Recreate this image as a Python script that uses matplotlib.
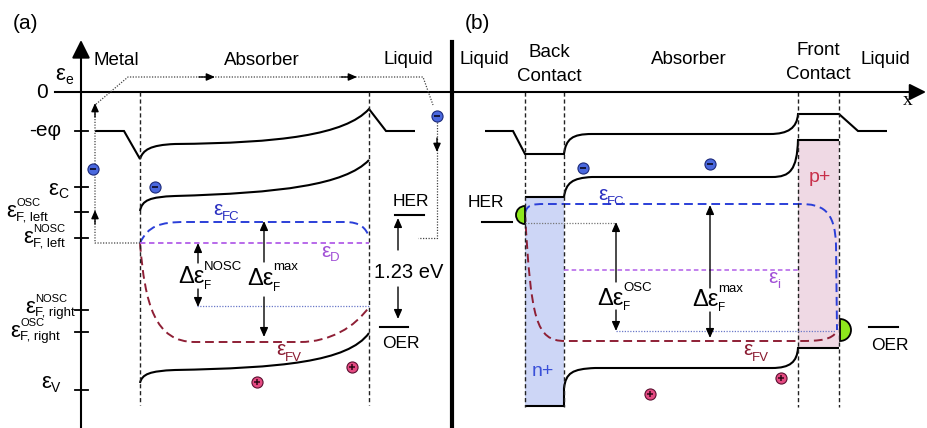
import numpy as np
import matplotlib.pyplot as plt
from matplotlib.path import Path
from matplotlib.patches import PathPatch, Rectangle, Wedge

plt.rcParams['font.family'] = ['Liberation Sans', 'DejaVu Sans']

# --- band levels, drawn in figure pixel units (y grows downward) ---
# panel (a): metal / absorber / liquid
a_vac = [('M', (95, 131)), ('L', (124, 131)), ('L', (140, 159)),
         ('C', (143, 150), (150, 145), (175, 144)),
         ('C', (280, 143), (345, 135), (369, 109)),
         ('L', (386, 131)), ('L', (415, 131))]
a_cb = [('M', (140, 211)), ('C', (142, 200), (150, 197), (175, 196)),
        ('C', (280, 193), (345, 185), (369, 160))]
a_vb = [('M', (140, 383)), ('C', (142, 374), (150, 371), (175, 370)),
        ('C', (280, 368), (348, 362), (369, 333))]
a_efc = [('M', (140, 243)), ('C', (148, 226), (160, 222), (185, 222)),
         ('L', (345, 222)), ('C', (360, 222), (366, 228), (369, 237))]
a_efv = [('M', (140, 243)), ('C', (145, 305), (155, 342), (195, 342)),
         ('L', (300, 342)), ('C', (330, 342), (355, 327), (369, 307))]
a_ed = 243
a_edges = [140, 369]
a_ticks = [131, 187, 212, 238, 310, 332, 390]

# panel (b): liquid / back contact / absorber / front contact / liquid
b_vac = [('M', (485, 131)), ('L', (513, 131)), ('L', (525, 154)), ('L', (564, 154)),
         ('C', (566, 139), (572, 134), (592, 134)), ('L', (770, 134)),
         ('C', (788, 134), (797, 128), (798, 114)), ('L', (839, 114)),
         ('L', (858, 131)), ('L', (887, 131))]
b_cb = [('M', (525, 197)), ('L', (564, 197)),
        ('C', (566, 183), (572, 178), (592, 177)), ('L', (772, 177)),
        ('C', (790, 177), (797, 170), (798, 140)), ('L', (839, 140))]
b_vb = [('M', (525, 406)), ('L', (564, 406)), ('L', (564, 388)),
        ('C', (566, 373), (572, 369), (595, 368)), ('L', (772, 368)),
        ('C', (790, 368), (797, 362), (798, 348)), ('L', (839, 348))]
b_efc = [('M', (525, 213)), ('C', (527, 205), (532, 204), (545, 204)),
         ('L', (800, 204)), ('C', (822, 204), (835, 210), (836, 245)),
         ('L', (837, 330))]
b_efv = [('M', (525, 213)), ('C', (531, 320), (536, 341), (565, 341)),
         ('L', (800, 341)), ('C', (820, 341), (832, 340), (837, 331))]
b_ei = 270
b_edges = [525, 564, 798, 839]
nplus = (525, 564, 197, 406)
pplus = (798, 839, 140, 348)

electrons = [(93, 169), (155, 187), (437, 116), (583, 168), (710, 164)]
holes = [(257, 382), (352, 367), (650, 394), (781, 378)]

C_FC = '#2b3fd8'
C_FV = '#8e1f35'
C_D = '#b25ee8'
C_FC_TXT = '#2a2fc0'
C_D_TXT = '#a14fd6'
C_FV_TXT = '#8a1a30'

fig = plt.figure(figsize=(9.27, 4.28), dpi=100)
ax = fig.add_axes([0, 0, 1, 1])
ax.set_xlim(0, 927)
ax.set_ylim(428, 0)
ax.axis('off')
renderer = fig.canvas.get_renderer()


def draw_path(segs, **kw):
    verts, codes = [], []
    for s in segs:
        if s[0] == 'M':
            verts.append(s[1]); codes.append(Path.MOVETO)
        elif s[0] == 'L':
            verts.append(s[1]); codes.append(Path.LINETO)
        else:
            verts += [s[1], s[2], s[3]]; codes += [Path.CURVE4] * 3
    ax.add_patch(PathPatch(Path(verts, codes), fill=False, capstyle='butt', **kw))


def arrow(tail, tip, lw=1.0, ms=11, color='k'):
    ax.annotate('', xy=tip, xytext=tail,
                arrowprops=dict(arrowstyle='-|>,head_length=0.5,head_width=0.22',
                                color=color, lw=lw, mutation_scale=ms,
                                shrinkA=0, shrinkB=0))


def symbol(x, y, main, sub='', sup='', size=16, sub_size=9.5, sup_size=8,
           sub_dy=3, sup_dy=-11, color='k', right=False):
    # main glyph with subscript/superscript stacked after it; y is the baseline
    ts = [ax.text(x, y, main, fontsize=size, color=color, va='baseline')]
    x1 = ts[0].get_window_extent(renderer).x1
    w = x1 - x
    if sub:
        t = ax.text(x1, y + sub_dy, sub, fontsize=sub_size, color=color, va='baseline')
        ts.append(t)
        w = max(w, t.get_window_extent(renderer).x1 - x)
    if sup:
        t = ax.text(x1, y + sup_dy, sup, fontsize=sup_size, color=color, va='baseline')
        ts.append(t)
        w = max(w, t.get_window_extent(renderer).x1 - x)
    if right:
        for t in ts:
            px, py = t.get_position()
            t.set_position((px - w, py))


solid = dict(color='k', lw=1.5)
vdash = dict(color='#222222', lw=1.0, ls=(0, (3, 2)))
dot = dict(color='#444444', lw=0.9, ls=(0, (1, 1.2)))

# axes and frame lines
ax.annotate('', xy=(81, 40), xytext=(81, 428),
            arrowprops=dict(arrowstyle='-|>,head_length=0.5,head_width=0.25',
                            color='k', lw=1.5, mutation_scale=22,
                            shrinkA=0, shrinkB=0))
ax.plot([55, 452], [92, 92], color='k', lw=1.5)
ax.annotate('', xy=(926, 92), xytext=(452, 92),
            arrowprops=dict(arrowstyle='-|>,head_length=0.5,head_width=0.25',
                            color='k', lw=1.5, mutation_scale=20,
                            shrinkA=0, shrinkB=0))
ax.plot([452, 452], [42, 428], color='k', lw=3)
for t in a_ticks:
    ax.plot([75, 88], [t, t], color='k', lw=1.3)

# region boundaries
for xe in a_edges:
    ax.plot([xe, xe], [92, 405], **vdash)
for xe in b_edges:
    ax.plot([xe, xe], [92, 407], **vdash)

# doped contact layers in (b)
ax.add_patch(Rectangle((nplus[0], nplus[2]), nplus[1] - nplus[0], nplus[3] - nplus[2],
                       facecolor='#cdd6f6', edgecolor='none', zorder=0))
ax.add_patch(Rectangle((pplus[0], pplus[2]), pplus[1] - pplus[0], pplus[3] - pplus[2],
                       facecolor='#efd9e4', edgecolor='none', zorder=0))

# bands
for segs in (a_vac, a_cb, a_vb, b_vac, b_cb, b_vb):
    draw_path(segs, **solid)
draw_path(a_efc, color=C_FC, lw=1.4, ls=(0, (4.5, 2.5)))
draw_path(a_efv, color=C_FV, lw=1.4, ls=(0, (4.5, 2.5)))
draw_path(b_efc, color=C_FC, lw=1.4, ls=(0, (4.5, 2.5)))
draw_path(b_efv, color=C_FV, lw=1.4, ls=(0, (4.5, 2.5)))
ax.plot(a_edges, [a_ed, a_ed], color=C_D, lw=1.3, ls=(0, (3, 2)))
ax.plot([564, 798], [b_ei, b_ei], color=C_D, lw=1.1, ls=(0, (3, 2)))

# quasi-Fermi reference levels
ax.plot([197, 369], [306, 306], color='#6a78c8', lw=0.9, ls=(0, (1, 1.2)))
ax.plot([525, 616], [223, 223], color='#777777', lw=0.9, ls=(0, (1, 1.2)))
ax.plot([616, 836], [331, 331], color='#6a78c8', lw=0.9, ls=(0, (1, 1.2)))

# electron path in (a)
ax.plot([140, 95, 95, 128, 423, 433], [243, 243, 105, 77, 77, 105], **dot)
ax.plot([437, 437, 418], [122, 238, 238], **dot)
arrow((95, 224), (95, 210), ms=10)
arrow((95, 117), (95, 103), ms=10)
arrow((199, 77), (215, 77), ms=10)
arrow((341, 77), (357, 77), ms=10)
arrow((437, 138), (437, 152), ms=10)

# Fermi level splitting arrows
arrow((198, 263), (198, 243))
arrow((198, 289), (198, 307))
arrow((264, 262), (264, 221))
arrow((264, 297), (264, 337))
arrow((616, 282), (616, 222))
arrow((616, 310), (616, 331))
arrow((710, 288), (710, 205))
arrow((710, 312), (710, 338))
arrow((398, 250), (398, 218))
arrow((398, 287), (398, 319))

# redox levels
ax.plot([395, 424], [215, 215], color='k', lw=1.5)
ax.plot([380, 408], [327, 327], color='k', lw=1.5)
ax.plot([482, 512], [222, 222], color='k', lw=1.5)
ax.plot([869, 898], [327, 327], color='k', lw=1.5)
ax.add_patch(Wedge((525, 215), 9, 90, 270, facecolor='#8ee81c', edgecolor='k', lw=1.3))
ax.add_patch(Wedge((840, 330), 11, -90, 90, facecolor='#8ee81c', edgecolor='k', lw=1.3))

# carriers
for (x, y) in electrons:
    ax.plot(x, y, 'o', ms=8, mfc='#4a68de', mec='#1c2a7a', mew=0.8)
    ax.plot(x, y, '_', ms=4.5, mec='#101030', mew=1.3)
for (x, y) in holes:
    ax.plot(x, y, 'o', ms=8, mfc='#e54a82', mec='#5a1030', mew=0.8)
    ax.plot(x, y, '+', ms=5, mec='#300818', mew=1.1)

# text
txt = dict(fontsize=13.5, ha='center', va='center')
ax.text(26, 23, '(a)', fontsize=15, ha='center', va='center')
ax.text(477, 23, '(b)', fontsize=15, ha='center', va='center')
ax.text(116, 60, 'Metal', **txt)
ax.text(262, 60, 'Absorber', **txt)
ax.text(408, 59, 'Liquid', **txt)
ax.text(484, 59, 'Liquid', **txt)
ax.text(549, 52, 'Back', **txt)
ax.text(549, 76, 'Contact', **txt)
ax.text(689, 59, 'Absorber', **txt)
ax.text(818, 50, 'Front', **txt)
ax.text(818, 74, 'Contact', **txt)
ax.text(885, 59, 'Liquid', **txt)
ax.text(908, 100, 'x', fontsize=14, family='Liberation Serif', ha='center', va='center')
ax.text(409, 272, '1.23 eV', fontsize=14.5, ha='center', va='center')
ax.text(411, 201, 'HER', fontsize=12.5, ha='center', va='center')
ax.text(401, 344, 'OER', fontsize=12.5, ha='center', va='center')
ax.text(486, 202, 'HER', fontsize=12.5, ha='center', va='center')
ax.text(890, 345, 'OER', fontsize=12.5, ha='center', va='center')
ax.text(543, 372, 'n+', fontsize=14, color='#3a50d8', ha='center', va='center')
ax.text(820, 177, 'p+', fontsize=14, color='#c8304a', ha='center', va='center')

# energy axis labels
ax.text(48, 92, '0', fontsize=15, ha='right', va='center')
ax.text(61, 131, '-eφ', fontsize=15, ha='right', va='center')
symbol(73, 80, 'ε', 'e', sub_size=10, sub_dy=4, right=True)
symbol(68, 195, 'ε', 'C', sub_size=10, sub_dy=3, right=True)
symbol(48, 217, 'ε', 'F, left', 'OSC', right=True)
symbol(65, 243, 'ε', 'F, left', 'NOSC', right=True)
symbol(75, 313, 'ε', 'F, right', 'NOSC', right=True)
symbol(60, 337, 'ε', 'F, right', 'OSC', right=True)
symbol(60, 388, 'ε', 'V', sub_size=10, sub_dy=4, right=True)

# band labels
symbol(213, 215, 'ε', 'FC', size=15, sub_dy=5, color=C_FC_TXT)
symbol(321, 257, 'ε', 'D', size=15, sub_dy=4, color=C_D_TXT)
symbol(276, 355, 'ε', 'FV', size=15, sub_dy=6, color=C_FV_TXT)
symbol(598, 200, 'ε', 'FC', size=15, sub_dy=5, color=C_FC_TXT)
symbol(768, 283, 'ε', 'i', size=15, sub_dy=5, color=C_D_TXT)
symbol(743, 355, 'ε', 'FV', size=15, sub_dy=6, color=C_FV_TXT)

# splitting labels
symbol(178, 283, 'Δε', 'F', 'NOSC', size=17, sub_size=8.5, sup_size=9.5, sub_dy=6, sup_dy=-13)
symbol(247, 285, 'Δε', 'F', 'max', size=17, sub_size=8.5, sup_size=9.5, sub_dy=6, sup_dy=-15)
symbol(597, 305, 'Δε', 'F', 'OSC', size=17, sub_size=8.5, sup_size=9.5, sub_dy=5, sup_dy=-14)
symbol(692, 306, 'Δε', 'F', 'max', size=17, sub_size=8.5, sup_size=9.5, sub_dy=5, sup_dy=-14)

fig.savefig('out.png', dpi=100)
